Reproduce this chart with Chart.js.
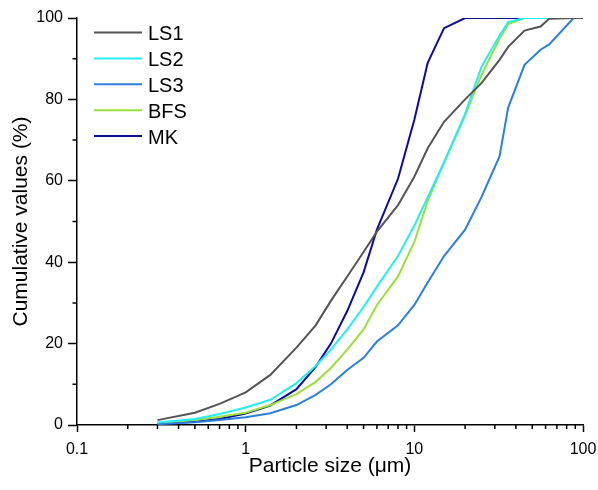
<!DOCTYPE html>
<html><head><meta charset="utf-8">
<script src="https://cdn.jsdelivr.net/npm/chart.js@4.4.0/dist/chart.umd.min.js"></script>
<style>html,body{margin:0;padding:0;background:#fff}#wrap{width:598px;height:490px}</style>
</head><body><div id="wrap"><canvas id="c" width="598" height="490"></canvas></div>
<script>
// Particle size grid (µm)
const sizes = [0.3,0.5,0.7,1,1.4,2,2.6,3.2,4,5,6,8,10,12,15,20,25,32,36,45,56,63,88,100];
// Cumulative values (%)
const LS1 = [1.2,3.0,5.2,8.0,12.3,19.0,24.5,30.5,36.5,42.5,47.5,54,61,68,74.5,80,84,89.7,92.9,96.9,97.9,99.8,100,100];
const LS2 = [0.6,1.5,2.7,4.3,6.2,10.3,14.5,18.5,23.5,29,34,41.5,49,56,64.5,76.5,88,95.7,99,100,100,100,100,100];
const LS3 = [0.2,0.7,1.2,1.9,2.9,4.9,7.4,10,13.5,16.5,20.5,24.5,29.5,35,41.5,48,56,66,78,88.5,92.2,93.5,100,100];
const BFS = [0.4,1.2,2.0,3.0,4.9,7.6,10.6,14,18.5,23.5,29.5,36.5,45,55,64.5,76,86,94.9,98.5,100,100,100,100,100];
const MK  = [0.3,0.8,1.5,2.8,4.8,8.8,14.3,20,28,37.5,48,60.5,75,89,97.5,100,100,100,100,100,100,100,100,100];

const seriesNames = ['LS1','LS2','LS3','BFS','MK'];
const seriesValues = [LS1, LS2, LS3, BFS, MK];
const seriesColors = ['#555555','#22eef4','#2b7fe0','#9be03a','#0c0c9c'];

const xMajorTicks = [0.1,1,10,100];
const xMinorTicks = [0.2,0.3,0.4,0.5,0.6,0.7,0.8,0.9,2,3,4,5,6,7,8,9,20,30,40,50,60,70,80,90];
const yMajorTicks = [0,20,40,60,80,100];
const yMinorTicks = [10,30,50,70,90];

const FONT = '"Liberation Sans", Arial, sans-serif';

const datasets = seriesNames.map((name, i) => ({
  label: name,
  data: sizes.map((s, j) => ({x: s, y: seriesValues[i][j]})),
  borderColor: seriesColors[i],
  backgroundColor: seriesColors[i],
  borderWidth: 2,
  pointRadius: 0,
  tension: 0,
  fill: false
}));

const extras = {
  id: 'extras',
  afterDraw(chart) {
    const {ctx, scales: {x, y}} = chart;
    ctx.save();
    ctx.strokeStyle = '#000';
    ctx.lineWidth = 1.5;
    ctx.beginPath();
    xMinorTicks.forEach(v => {
      const px = x.getPixelForValue(v);
      ctx.moveTo(px, y.bottom);
      ctx.lineTo(px, y.bottom + 4);
    });
    yMinorTicks.forEach(v => {
      const py = y.getPixelForValue(v);
      ctx.moveTo(x.left, py);
      ctx.lineTo(x.left - 4.5, py);
    });
    ctx.stroke();
    // legend
    ctx.font = '20px ' + FONT;
    ctx.textBaseline = 'alphabetic';
    ctx.textAlign = 'left';
    chart.data.datasets.forEach((ds, i) => {
      const base = 40 + i * 25.9;
      ctx.strokeStyle = ds.borderColor;
      ctx.lineWidth = 2;
      ctx.beginPath();
      ctx.moveTo(94, base - 7.5);
      ctx.lineTo(142, base - 7.5);
      ctx.stroke();
      ctx.fillStyle = '#000';
      ctx.fillText(ds.label, 148, base);
    });
    ctx.restore();
  }
};

new Chart(document.getElementById('c'), {
  type: 'line',
  data: {datasets},
  plugins: [extras],
  options: {
    responsive: false,
    devicePixelRatio: 1,
    animation: false,
    layout: {padding: {top: 18, right: 15, left: 0, bottom: 0}},
    plugins: {legend: {display: false}, tooltip: {enabled: false}},
    scales: {
      x: {
        type: 'logarithmic',
        min: 0.1, max: 100,
        afterBuildTicks: s => { s.ticks = xMajorTicks.map(v => ({value: v})); },
        afterFit: s => { s.height = 65; s.paddingLeft = 0; s.paddingRight = 15; },
        ticks: {
          autoSkip: false, maxRotation: 0, padding: 8,
          color: '#000', font: {family: FONT, size: 16},
          callback: v => String(v)
        },
        grid: {display: true, drawOnChartArea: false, tickLength: 7, color: '#000', tickWidth: 1.5},
        border: {display: true, color: '#000', width: 1.5},
        title: {display: true, text: 'Particle size (μm)', color: '#000',
                font: {family: FONT, size: 21}, padding: {top: 0, bottom: 11}}
      },
      y: {
        type: 'linear',
        min: 0, max: 100,
        afterBuildTicks: s => { s.ticks = yMajorTicks.map(v => ({value: v})); },
        afterFit: s => { s.width = 77; },
        ticks: {padding: 5, color: '#000', font: {family: FONT, size: 16}},
        grid: {display: true, drawOnChartArea: false, tickLength: 9, color: '#000', tickWidth: 1.5},
        border: {display: true, color: '#000', width: 1.5},
        title: {display: true, text: 'Cumulative values (%)', color: '#000',
                font: {family: FONT, size: 21}, padding: {top: 9, bottom: 0}}
      }
    }
  }
});
</script>
</body></html>
